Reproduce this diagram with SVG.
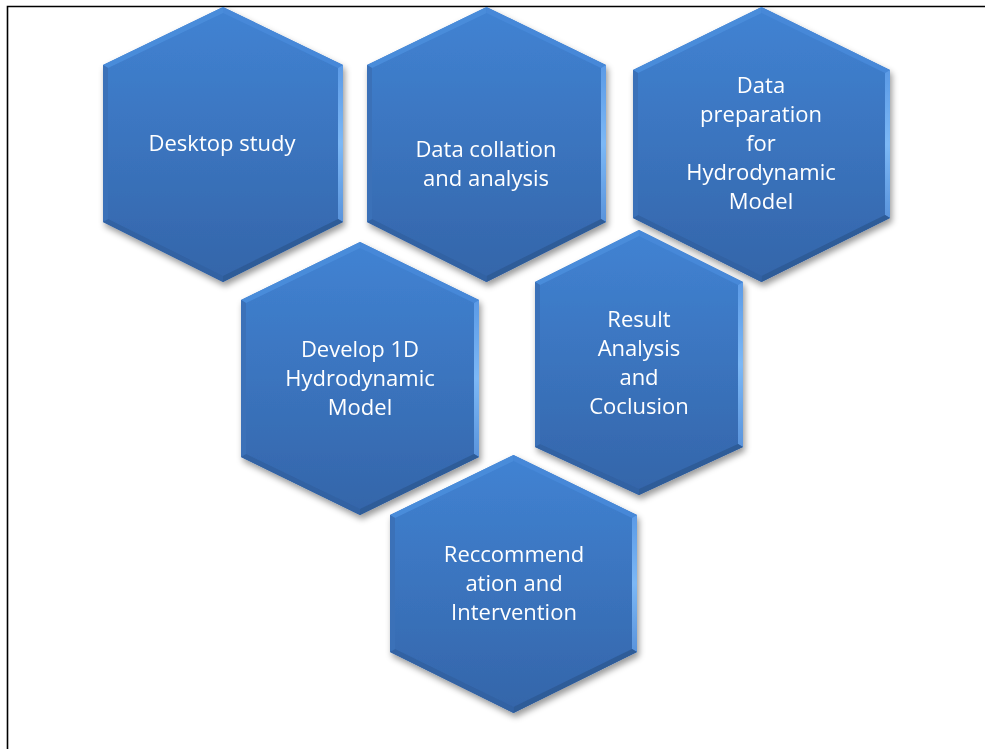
<svg xmlns="http://www.w3.org/2000/svg" width="985" height="749" viewBox="0 0 985 749">
  <defs>
    <linearGradient id="face" x1="0" y1="0" x2="0" y2="1">
      <stop offset="0" stop-color="#4183d3"/>
      <stop offset="1" stop-color="#3465a9"/>
    </linearGradient>
    <linearGradient id="hilite" x1="0" y1="0" x2="0" y2="1">
      <stop offset="0" stop-color="#5b9ae6"/>
      <stop offset="0.5" stop-color="#7cb8f6"/>
      <stop offset="1" stop-color="#5a94dc"/>
    </linearGradient>
    <filter id="shadow" x="-10%" y="-10%" width="125%" height="125%">
      <feDropShadow dx="2" dy="4" stdDeviation="3" flood-color="#000" flood-opacity="0.4"/>
    </filter>
    <style>
      .hex { filter: url(#shadow); }
      .face { fill: url(#face); }
      .tl { fill: #4a8cda; }
      .tr { fill: #4688d8; }
      .rt { fill: url(#hilite); }
      .br { fill: #2e5b98; }
      .bl { fill: #3262a3; }
      .lf { fill: #3a71b8; }
      .lbl { font-family: "Open Sans", "Liberation Sans", sans-serif; font-size: 22px; fill: #ffffff; text-anchor: middle; }
      .frame { fill: none; stroke: #000; stroke-width: 1.6; }
    </style>
  </defs>

  <rect width="985" height="749" fill="#ffffff"/>
  <path class="frame" d="M7.5,749 V6.5 H985"/>

  <!-- no connectors in this layout -->
  <g id="connectors"/>

  <g id="desktop-study" class="hex">
    <polygon class="face" points="223,7 343,65 343,222 223,282 103,222 103,65"/>
    <polygon class="tl" points="103,65 223,7 223,13 108,68"/>
    <polygon class="tr" points="223,7 343,65 338,68 223,13"/>
    <polygon class="rt" points="343,65 343,222 338,219 338,68"/>
    <polygon class="br" points="343,222 223,282 223,276 338,219"/>
    <polygon class="bl" points="223,282 103,222 108,219 223,276"/>
    <polygon class="lf" points="103,222 103,65 108,68 108,219"/>
    <text class="lbl" x="222" y="151">Desktop study</text>
  </g>

  <g id="data-collation" class="hex">
    <polygon class="face" points="486.5,7 606,65 606,222 486.5,282 367,222 367,65"/>
    <polygon class="tl" points="367,65 486.5,7 486.5,13 372,68"/>
    <polygon class="tr" points="486.5,7 606,65 601,68 486.5,13"/>
    <polygon class="rt" points="606,65 606,222 601,219 601,68"/>
    <polygon class="br" points="606,222 486.5,282 486.5,276 601,219"/>
    <polygon class="bl" points="486.5,282 367,222 372,219 486.5,276"/>
    <polygon class="lf" points="367,222 367,65 372,68 372,219"/>
    <text class="lbl" x="486" y="157">Data collation</text>
    <text class="lbl" x="486" y="186">and analysis</text>
  </g>

  <g id="data-preparation" class="hex">
    <polygon class="face" points="761.5,7 890,70 890,218 761.5,282 633,218 633,70"/>
    <polygon class="tl" points="633,70 761.5,7 761.5,13 638,73"/>
    <polygon class="tr" points="761.5,7 890,70 885,73 761.5,13"/>
    <polygon class="rt" points="890,70 890,218 885,215 885,73"/>
    <polygon class="br" points="890,218 761.5,282 761.5,276 885,215"/>
    <polygon class="bl" points="761.5,282 633,218 638,215 761.5,276"/>
    <polygon class="lf" points="633,218 633,70 638,73 638,215"/>
    <text class="lbl" x="761" y="93">Data</text>
    <text class="lbl" x="761" y="122">preparation</text>
    <text class="lbl" x="761" y="151">for</text>
    <text class="lbl" x="761" y="180">Hydrodynamic</text>
    <text class="lbl" x="761" y="209">Model</text>
  </g>

  <g id="develop-model" class="hex">
    <polygon class="face" points="360,242 479,300 479,457 360,515 241,457 241,300"/>
    <polygon class="tl" points="241,300 360,242 360,248 246,303"/>
    <polygon class="tr" points="360,242 479,300 474,303 360,248"/>
    <polygon class="rt" points="479,300 479,457 474,454 474,303"/>
    <polygon class="br" points="479,457 360,515 360,509 474,454"/>
    <polygon class="bl" points="360,515 241,457 246,454 360,509"/>
    <polygon class="lf" points="241,457 241,300 246,303 246,454"/>
    <text class="lbl" x="360" y="357">Develop 1D</text>
    <text class="lbl" x="360" y="386">Hydrodynamic</text>
    <text class="lbl" x="360" y="415">Model</text>
  </g>

  <g id="result-analysis" class="hex">
    <polygon class="face" points="639,230 743,282 743,447 639,495 535,447 535,282"/>
    <polygon class="tl" points="535,282 639,230 639,236 540,285"/>
    <polygon class="tr" points="639,230 743,282 738,285 639,236"/>
    <polygon class="rt" points="743,282 743,447 738,444 738,285"/>
    <polygon class="br" points="743,447 639,495 639,489 738,444"/>
    <polygon class="bl" points="639,495 535,447 540,444 639,489"/>
    <polygon class="lf" points="535,447 535,282 540,285 540,444"/>
    <text class="lbl" x="639" y="327">Result</text>
    <text class="lbl" x="639" y="356">Analysis</text>
    <text class="lbl" x="639" y="385">and</text>
    <text class="lbl" x="639" y="414">Coclusion</text>
  </g>

  <g id="recommendation" class="hex">
    <polygon class="face" points="513.5,455 637,515 637,652 513.5,713 390,652 390,515"/>
    <polygon class="tl" points="390,515 513.5,455 513.5,461 395,518"/>
    <polygon class="tr" points="513.5,455 637,515 632,518 513.5,461"/>
    <polygon class="rt" points="637,515 637,652 632,649 632,518"/>
    <polygon class="br" points="637,652 513.5,713 513.5,707 632,649"/>
    <polygon class="bl" points="513.5,713 390,652 395,649 513.5,707"/>
    <polygon class="lf" points="390,652 390,515 395,518 395,649"/>
    <text class="lbl" x="514" y="562">Reccommend</text>
    <text class="lbl" x="514" y="591">ation and</text>
    <text class="lbl" x="514" y="620">Intervention</text>
  </g>
</svg>
